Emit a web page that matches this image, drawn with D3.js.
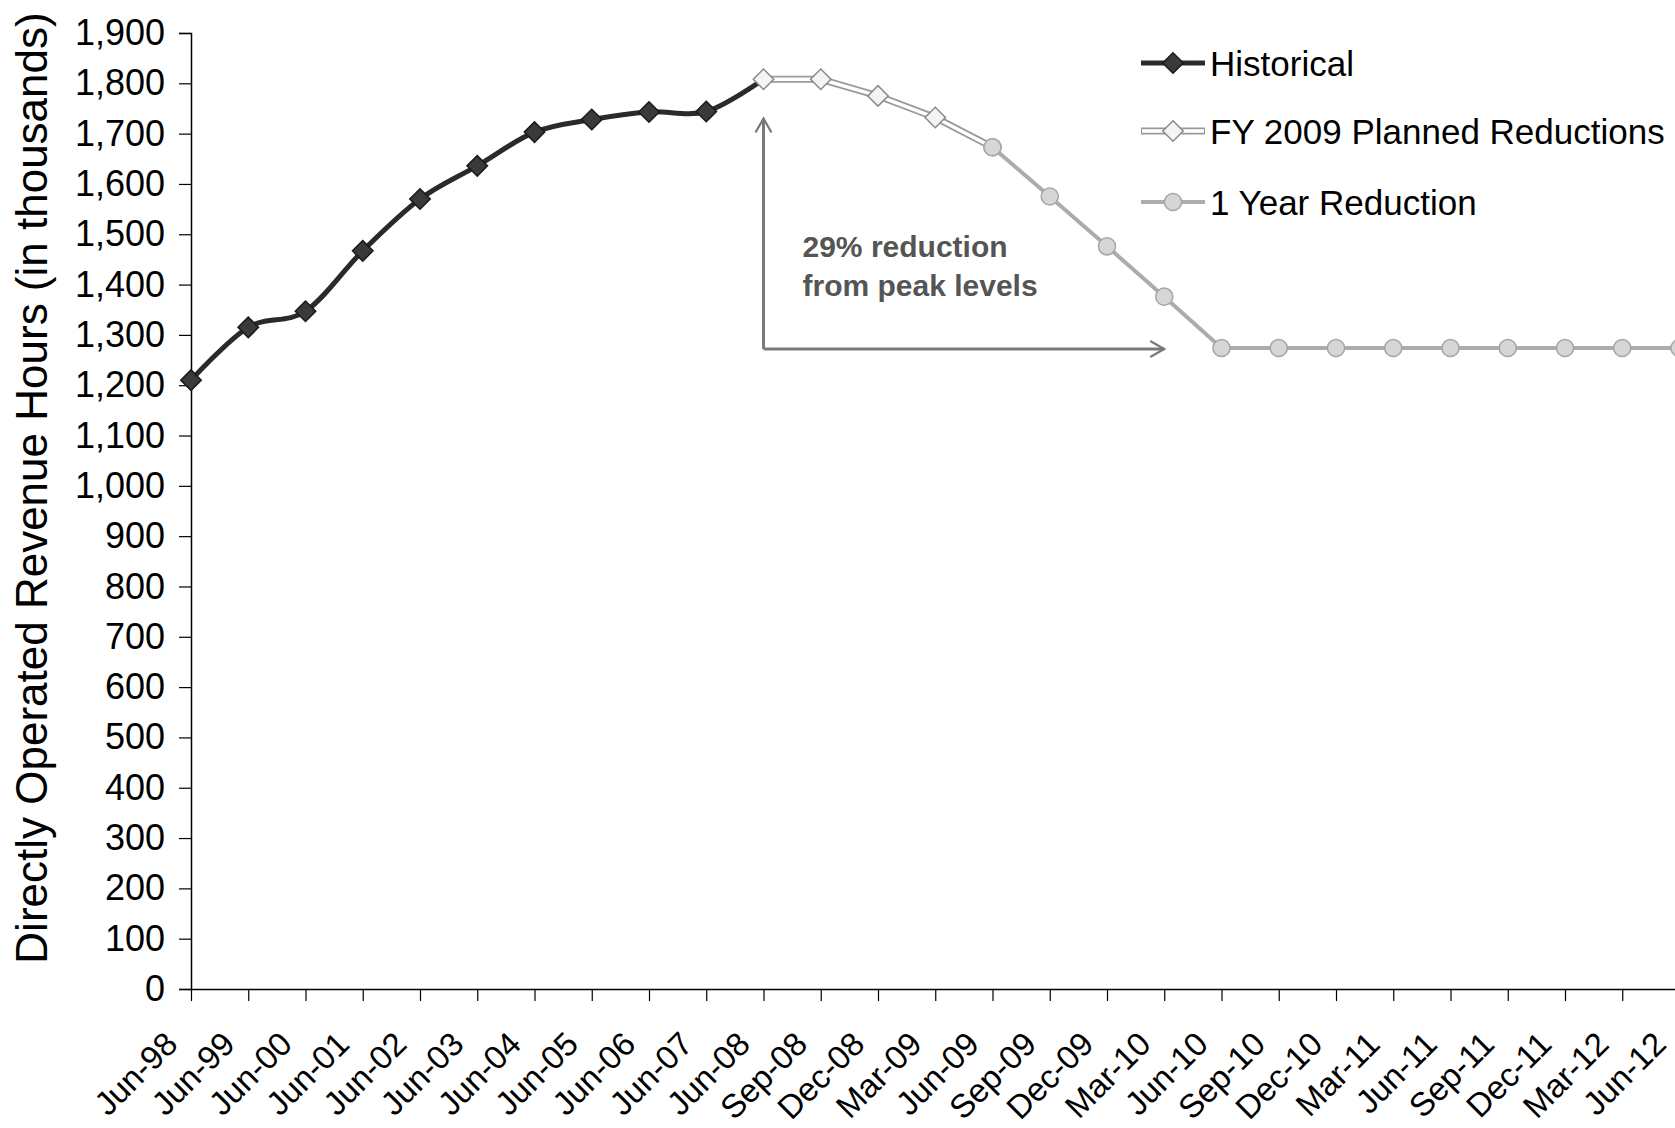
<!DOCTYPE html>
<html>
<head>
<meta charset="utf-8">
<script src="https://cdn.jsdelivr.net/npm/d3@7"></script>
<style>
  html, body { margin: 0; padding: 0; background: #fff; }
  svg { display: block; font-family: "Liberation Sans", Arial, sans-serif; }
</style>
</head>
<body>
<svg id="chart" width="1675" height="1128"></svg>
<script>
// ---- data ----
const categories = ["Jun-98","Jun-99","Jun-00","Jun-01","Jun-02","Jun-03","Jun-04","Jun-05","Jun-06","Jun-07","Jun-08",
  "Sep-08","Dec-08","Mar-09","Jun-09","Sep-09","Dec-09","Mar-10","Jun-10","Sep-10","Dec-10","Mar-11","Jun-11",
  "Sep-11","Dec-11","Mar-12","Jun-12"];

const historicalLabels = ["Jun-98","Jun-99","Jun-00","Jun-01","Jun-02","Jun-03","Jun-04","Jun-05","Jun-06","Jun-07","Jun-08"];
const historicalValues = [1210, 1315, 1347, 1467, 1570, 1636, 1703, 1728, 1743, 1744, 1808];

const fy2009Labels = ["Jun-08","Sep-08","Dec-08","Mar-09","Jun-09"];
const fy2009Values = [1808, 1808, 1775, 1732, 1673];

const oneYearLabels = ["Jun-09","Sep-09","Dec-09","Mar-10","Jun-10","Sep-10","Dec-10","Mar-11","Jun-11","Sep-11","Dec-11","Mar-12","Jun-12"];
const oneYearValues = [1673, 1575, 1476, 1376, 1274, 1274, 1274, 1274, 1274, 1274, 1274, 1274, 1274];

const yTicks = d3.range(0, 1901, 100);
const seriesNames = ["Historical", "FY 2009 Planned Reductions", "1 Year Reduction"];
const annotationLines = ["29% reduction", "from peak levels"];
// annotation anchor (category, value)
const annotFrom = {cat: "Jun-08", top: 1730, bottom: 1272};
const annotTo = "Mar-10";
const yTitle = "Directly Operated Revenue Hours (in thousands)";

// ---- layout ----
const svg = d3.select("#chart");
const x0 = 191, y0 = 989, yTop = 33, step = 57.25;
const x = d3.scalePoint().domain(categories).range([x0, x0 + step * (categories.length - 1)]);
const y = d3.scaleLinear().domain([0, 1900]).range([y0, yTop]);

// y axis
const yAxis = svg.append("g").attr("transform", `translate(${x0},0)`)
  .call(d3.axisLeft(y).tickValues(yTicks).tickSize(12).tickPadding(14).tickFormat(d3.format(",")));
yAxis.select(".domain").attr("stroke", "#000").attr("stroke-width", 1.5);
yAxis.selectAll(".tick line").attr("stroke", "#000").attr("stroke-width", 1.2);
yAxis.selectAll("text").attr("font-size", 36).attr("fill", "#000").attr("font-family", "Liberation Sans, Arial, sans-serif");

// x axis
const xAxis = svg.append("g").attr("transform", `translate(0,${y0})`)
  .call(d3.axisBottom(x).tickSize(12).tickSizeOuter(0).tickFormat(d => d));
xAxis.select(".domain").attr("stroke", "#000").attr("stroke-width", 1.5);
xAxis.selectAll(".tick line").attr("stroke", "#000").attr("stroke-width", 1.2);
xAxis.selectAll("text")
  .attr("font-size", 33).attr("fill", "#000").attr("font-family", "Liberation Sans, Arial, sans-serif")
  .attr("text-anchor", "end")
  .attr("dy", "0")
  .attr("transform", "translate(-12,57) rotate(-45)")
  .attr("y", 0).attr("x", 0);

// y title
svg.append("text")
  .attr("transform", `translate(47,488) rotate(-90)`)
  .attr("text-anchor", "middle")
  .attr("font-size", 44)
  .attr("fill", "#000")
  .text(yTitle);

// ---- series ----
const diamond = d3.symbol().type(d3.symbolSquare).size(210);
const circle = d3.symbol().type(d3.symbolCircle).size(230);

// 1 Year Reduction
const oneYear = oneYearLabels.map((c, i) => ({c, v: oneYearValues[i]}));
const lineStraight = d3.line().x(d => x(d.c)).y(d => y(d.v));
svg.append("path").datum(oneYear).attr("d", lineStraight)
  .attr("fill", "none").attr("stroke", "#acacac").attr("stroke-width", 4);
svg.append("g").selectAll("path").data(oneYear).join("path")
  .attr("d", circle)
  .attr("transform", d => `translate(${x(d.c)},${y(d.v)})`)
  .attr("fill", "#d6d6d6").attr("stroke", "#a6a6a6").attr("stroke-width", 1.5);

// FY 2009 Planned Reductions
const fy = fy2009Labels.map((c, i) => ({c, v: fy2009Values[i]}));
svg.append("path").datum(fy).attr("d", lineStraight)
  .attr("fill", "none").attr("stroke", "#9a9a9a").attr("stroke-width", 7);
svg.append("path").datum(fy).attr("d", lineStraight)
  .attr("fill", "none").attr("stroke", "#fff").attr("stroke-width", 3.5);

// Historical
const hist = historicalLabels.map((c, i) => ({c, v: historicalValues[i]}));
const lineSmooth = d3.line().x(d => x(d.c)).y(d => y(d.v)).curve(d3.curveCatmullRom.alpha(0));
svg.append("path").datum(hist).attr("d", lineSmooth)
  .attr("fill", "none").attr("stroke", "#2a2a2a").attr("stroke-width", 5);
svg.append("g").selectAll("path").data(hist.slice(0, -1)).join("path")
  .attr("d", diamond)
  .attr("transform", d => `translate(${x(d.c)},${y(d.v)}) rotate(45)`)
  .attr("fill", "#3a3a3a").attr("stroke", "#1a1a1a").attr("stroke-width", 1.5);

// FY markers
svg.append("g").selectAll("path").data(fy.slice(0, -1)).join("path")
  .attr("d", diamond)
  .attr("transform", d => `translate(${x(d.c)},${y(d.v)}) rotate(45)`)
  .attr("fill", "#f4f4f4").attr("stroke", "#8a8a8a").attr("stroke-width", 1.5);
// circle on top at Jun-09
svg.append("path").attr("d", circle)
  .attr("transform", `translate(${x(oneYear[0].c)},${y(oneYear[0].v)})`)
  .attr("fill", "#d6d6d6").attr("stroke", "#a6a6a6").attr("stroke-width", 1.5);

// ---- annotation arrows ----
const ax = x(annotFrom.cat), ayTop = y(annotFrom.top), ayBot = y(annotFrom.bottom), axEnd = x(annotTo);
const ann = svg.append("g").attr("fill", "none").attr("stroke", "#7a7a7a").attr("stroke-width", 3);
ann.append("path").attr("d", `M${ax},${ayBot} L${ax},${ayTop}`);
ann.append("path").attr("d", `M${ax - 8},${ayTop + 14} L${ax},${ayTop} L${ax + 8},${ayTop + 14}`).attr("stroke-width", 2.2);
ann.append("path").attr("d", `M${ax},${ayBot} L${axEnd},${ayBot}`);
ann.append("path").attr("d", `M${axEnd - 14},${ayBot - 8} L${axEnd},${ayBot} L${axEnd - 14},${ayBot + 8}`).attr("stroke-width", 2.2);

svg.append("g").selectAll("text").data(annotationLines).join("text")
  .attr("x", ax + 39).attr("y", (d, i) => 257 + i * 39)
  .attr("font-size", 30).attr("font-weight", "bold").attr("fill", "#555")
  .text(d => d);

// ---- legend ----
const legendRows = [
  {name: seriesNames[0], y: 63},
  {name: seriesNames[1], y: 131},
  {name: seriesNames[2], y: 202}
];
const lx1 = 1141, lx2 = 1205, lmx = (lx1 + lx2) / 2;
const lg = svg.append("g");
// Historical
lg.append("line").attr("x1", lx1).attr("x2", lx2).attr("y1", legendRows[0].y).attr("y2", legendRows[0].y)
  .attr("stroke", "#2a2a2a").attr("stroke-width", 5);
lg.append("path").attr("d", diamond).attr("transform", `translate(${lmx},${legendRows[0].y}) rotate(45)`)
  .attr("fill", "#3a3a3a").attr("stroke", "#1a1a1a").attr("stroke-width", 1.5);
// FY
lg.append("line").attr("x1", lx1).attr("x2", lx2).attr("y1", legendRows[1].y).attr("y2", legendRows[1].y)
  .attr("stroke", "#9a9a9a").attr("stroke-width", 7);
lg.append("line").attr("x1", lx1 + 1).attr("x2", lx2 - 1).attr("y1", legendRows[1].y).attr("y2", legendRows[1].y)
  .attr("stroke", "#fff").attr("stroke-width", 3.5);
lg.append("path").attr("d", diamond).attr("transform", `translate(${lmx},${legendRows[1].y}) rotate(45)`)
  .attr("fill", "#f4f4f4").attr("stroke", "#8a8a8a").attr("stroke-width", 1.5);
// 1 Year
lg.append("line").attr("x1", lx1).attr("x2", lx2).attr("y1", legendRows[2].y).attr("y2", legendRows[2].y)
  .attr("stroke", "#acacac").attr("stroke-width", 4);
lg.append("path").attr("d", circle).attr("transform", `translate(${lmx},${legendRows[2].y})`)
  .attr("fill", "#d6d6d6").attr("stroke", "#a6a6a6").attr("stroke-width", 1.5);

lg.selectAll("text").data(legendRows).join("text")
  .attr("x", lx2 + 5).attr("y", d => d.y).attr("dy", "0.36em")
  .attr("font-size", 35).attr("fill", "#000")
  .text(d => d.name);
</script>
</body>
</html>
